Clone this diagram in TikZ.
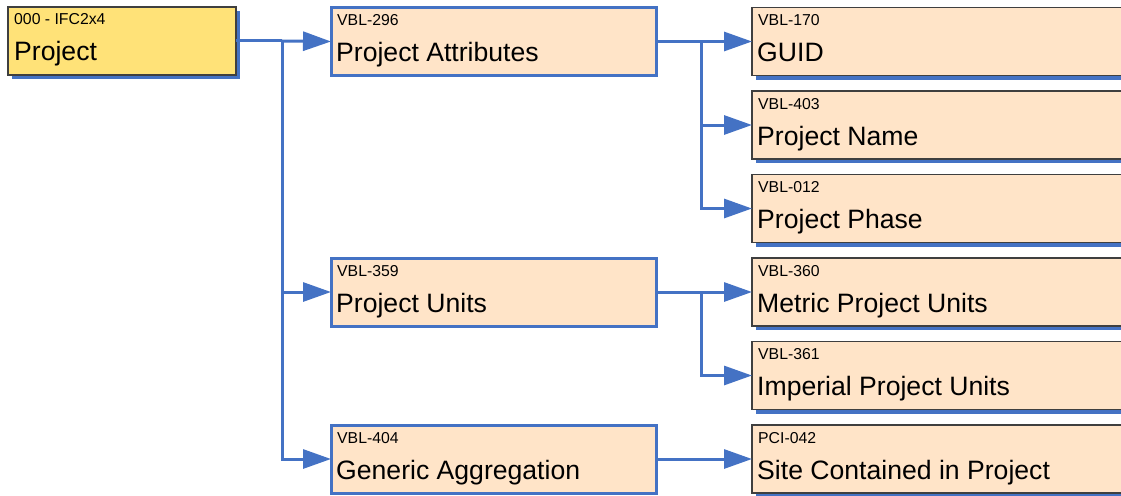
\documentclass[tikz,border=0pt]{standalone}
\usepackage{fontspec}
\setmainfont{Liberation Sans}
\usetikzlibrary{arrows.meta,calc,shadows}
\definecolor{lineblue}{HTML}{4472C4}
\definecolor{peach}{HTML}{FFE4C8}
\definecolor{projyellow}{HTML}{FFE278}
\definecolor{edgegray}{HTML}{3F3F3F}
\tikzset{
  box/.style={rectangle, anchor=north west, inner sep=0pt, outer sep=0pt, minimum height=68pt},
  rootbox/.style={box, fill=projyellow, draw=edgegray, line width=1.2pt, minimum width=228pt,
    drop shadow={shadow xshift=4pt, shadow yshift=-4pt, fill=lineblue, opacity=1}},
  midbox/.style={box, fill=peach, draw=lineblue, line width=3pt, minimum width=325pt},
  leafbox/.style={box, fill=peach, draw=edgegray, line width=1.2pt, minimum width=400pt,
    drop shadow={shadow xshift=4pt, shadow yshift=-4pt, fill=lineblue, opacity=1}},
  idtext/.style={anchor=base west, inner sep=0pt, font=\fontsize{15.8}{18}\selectfont},
  nametext/.style={anchor=base west, inner sep=0pt, font=\fontsize{26.6}{30}\selectfont},
  link/.style={draw=lineblue, line width=3pt},
  arr/.style={link, -{Triangle[length=28pt,width=19pt]}}
}
\begin{document}
\begin{tikzpicture}[x=1pt,y=-1pt]
\useasboundingbox (0,0) rectangle (1121,495);
\clip (0,0) rectangle (1121,495);

% root
\node[rootbox] (p) at (8,7) {};
\node[idtext] (pid) at ($(p.north west)+(6,18)$) {000 - IFC2x4};
\node[nametext] (pname) at ($(p.north west)+(6,53)$) {Project};

% middle column
\node[midbox] (a) at (331,7.5) {};
\node[idtext] (aid) at ($(a.north west)+(6,18)$) {VBL-296};
\node[nametext] (aname) at ($(a.north west)+(5,54)$) {Project Attributes};

\node[midbox] (u) at (331,258) {};
\node[idtext] (uid) at ($(u.north west)+(6,18)$) {VBL-359};
\node[nametext] (uname) at ($(u.north west)+(5,54)$) {Project Units};

\node[midbox] (g) at (331,425) {};
\node[idtext] (gid) at ($(g.north west)+(6,18)$) {VBL-404};
\node[nametext] (gname) at ($(g.north west)+(5,54)$) {Generic Aggregation};

% right column
\node[leafbox] (l1) at (752,7.5) {};
\node[idtext] (l1id) at ($(l1.north west)+(6,18)$) {VBL-170};
\node[nametext] (l1name) at ($(l1.north west)+(5,54)$) {GUID};

\node[leafbox] (l2) at (752,91) {};
\node[idtext] (l2id) at ($(l2.north west)+(6,18)$) {VBL-403};
\node[nametext] (l2name) at ($(l2.north west)+(5,54)$) {Project Name};

\node[leafbox] (l3) at (752,174.5) {};
\node[idtext] (l3id) at ($(l3.north west)+(6,18)$) {VBL-012};
\node[nametext] (l3name) at ($(l3.north west)+(5,54)$) {Project Phase};

\node[leafbox] (l4) at (752,258) {};
\node[idtext] (l4id) at ($(l4.north west)+(6,18)$) {VBL-360};
\node[nametext] (l4name) at ($(l4.north west)+(5,54)$) {Metric Project Units};

\node[leafbox] (l5) at (752,341.5) {};
\node[idtext] (l5id) at ($(l5.north west)+(6,18)$) {VBL-361};
\node[nametext] (l5name) at ($(l5.north west)+(5,54)$) {Imperial Project Units};

\node[leafbox] (l6) at (752,425) {};
\node[idtext] (l6id) at ($(l6.north west)+(6,18)$) {PCI-042};
\node[nametext] (l6name) at ($(l6.north west)+(5,54)$) {Site Contained in Project};

% connectors
\coordinate (j1) at (282,41);
\draw[link] (p.east) -- (j1);
\draw[arr] (j1) -- (a.west);
\draw[arr] (j1) |- (u.west);
\draw[arr] (j1) |- (g.west);

\coordinate (j2) at (701,41.5);
\draw[link] (a.east) -- (j2);
\draw[arr] (j2) -- (l1.west);
\draw[arr] (j2) |- (l2.west);
\draw[arr] (j2) |- (l3.west);

\coordinate (j3) at (701,292);
\draw[link] (u.east) -- (j3);
\draw[arr] (j3) -- (l4.west);
\draw[arr] (j3) |- (l5.west);

\draw[arr] (g.east) -- (l6.west);
\end{tikzpicture}
\end{document}
